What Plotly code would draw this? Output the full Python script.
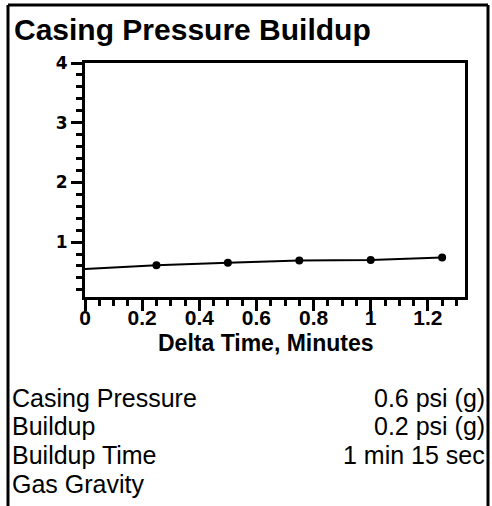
import plotly.graph_objects as go

W, H = 492, 506

# ---- data ----
delta_time = [0, 0.25, 0.5, 0.75, 1.0, 1.25]
pressure = [0.55, 0.61, 0.655, 0.69, 0.70, 0.74]

x_tickvals = [0, 0.2, 0.4, 0.6, 0.8, 1.0, 1.2]
x_ticktext = ["0", "0.2", "0.4", "0.6", "0.8", "1", "1.2"]
y_tickvals = [1, 2, 3, 4]
y_ticktext = ["1", "2", "3", "4"]

title_text = "Casing Pressure Buildup"
x_title = "Delta Time, Minutes"
info_labels = ["Casing Pressure", "Buildup", "Buildup Time", "Gas Gravity"]
info_values = ["0.6 psi (g)", "0.2 psi (g)", "1 min 15 sec", ""]


def px(x):
    return x / W


def py(y):
    return 1 - y / H


SANS = "Liberation Sans, Arial, sans-serif"

fig = go.Figure()
fig.add_trace(go.Scatter(x=delta_time, y=pressure, mode="lines",
                         line=dict(color="black", width=2), hoverinfo="skip",
                         showlegend=False))
fig.add_trace(go.Scatter(x=delta_time[1:], y=pressure[1:], mode="markers",
                         marker=dict(color="black", size=8), showlegend=False))

axis_common = dict(showgrid=False, zeroline=False, showline=True, linecolor="black",
                   linewidth=3, mirror=True, ticks="outside", tickcolor="black",
                   tickwidth=3, ticklen=11)

fig.update_xaxes(**axis_common, range=[0, 1.33], domain=[px(85), px(465)],
                 tickvals=x_tickvals, ticktext=x_ticktext, ticklabelstandoff=-11,
                 tickfont=dict(family=SANS, size=21, color="black", weight="bold"),
                 minor=dict(dtick=0.05, tick0=0, ticks="outside", ticklen=6,
                            tickwidth=3, tickcolor="black"))
fig.update_yaxes(**axis_common, range=[0.08, 4], domain=[py(297), py(63)],
                 tickvals=y_tickvals, ticktext=y_ticktext,
                 tickfont=dict(family="DejaVu Sans, sans-serif", size=17, color="black",
                               weight="bold"),
                 minor=dict(dtick=0.2, tick0=0, ticks="outside", ticklen=6,
                            tickwidth=3, tickcolor="black"))

annotations = [
    dict(text=title_text, x=px(12), y=py(30), xanchor="left", yanchor="middle",
         font=dict(family=SANS, size=30, color="black", weight="bold")),
    dict(text=x_title, x=px(266), y=py(343), xanchor="center", yanchor="middle",
         font=dict(family=SANS, size=23, color="black", weight="bold")),
]
rows_y = [398, 426, 455, 484]
for lab, val, yy in zip(info_labels, info_values, rows_y):
    annotations.append(dict(text=lab, x=px(10), y=py(yy), xanchor="left", yanchor="middle",
                            font=dict(family=SANS, size=25, color="black")))
    if val:
        annotations.append(dict(text=val, x=px(487), y=py(yy), xanchor="right",
                                yanchor="middle",
                                font=dict(family=SANS, size=25, color="black")))
for a in annotations:
    a.update(xref="paper", yref="paper", showarrow=False)

border = dict(color="black", width=3)
fig.update_layout(
    width=W, height=H, autosize=False,
    margin=dict(l=0, r=0, t=0, b=0, pad=0, autoexpand=False),
    paper_bgcolor="white", plot_bgcolor="white",
    annotations=annotations,
    shapes=[
        dict(type="line", xref="paper", yref="paper", x0=px(8), x1=px(8),
             y0=0, y1=py(5), line=border, layer="above"),
        dict(type="line", xref="paper", yref="paper", x0=px(8), x1=px(488),
             y0=py(5), y1=py(5), line=border, layer="above"),
        dict(type="line", xref="paper", yref="paper", x0=px(488), x1=px(488),
             y0=0, y1=py(5), line=border, layer="above"),
    ],
)

fig.write_html(
    "out.html",
    config={"displayModeBar": False},
    post_script="document.body.style.margin='0';document.body.style.overflow='hidden';",
)
